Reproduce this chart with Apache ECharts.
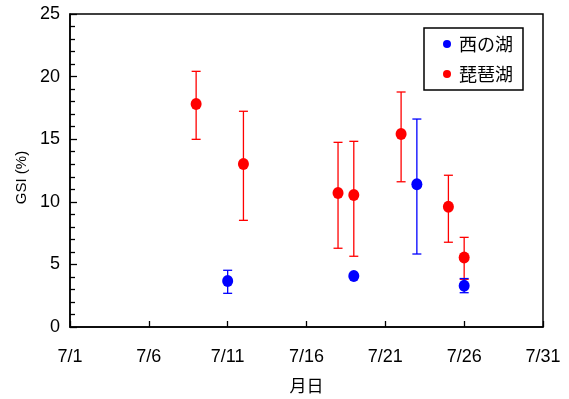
<!DOCTYPE html>
<html>
<head>
<meta charset="utf-8">
<script src="https://cdn.jsdelivr.net/npm/echarts@6/dist/echarts.min.js"></script>
<style>
  html, body { margin: 0; padding: 0; background: #fff; }
  #chart { width: 569px; height: 399px; }
</style>
</head>
<body>
<div id="chart"></div>
<script>
// day of July
var xTickLabels = ["7/1", "7/6", "7/11", "7/16", "7/21", "7/26", "7/31"];

// 西の湖
var nishiDays = [11, 19, 23, 26];
var nishiGsi = [3.67, 4.07, 11.4, 3.3];
var nishiLow = [2.69, 4.07, 5.83, 2.74];
var nishiHigh = [4.53, 4.07, 16.61, 3.87];

// 琵琶湖
var biwaDays = [9, 12, 18, 19, 22, 25, 26];
var biwaGsi = [17.81, 13.02, 10.7, 10.54, 15.42, 9.61, 5.56];
var biwaLow = [14.99, 8.52, 6.29, 5.65, 11.6, 6.77, 3.81];
var biwaHigh = [20.42, 17.23, 14.75, 14.83, 18.77, 12.12, 7.16];

var fontLatin = "Liberation Sans, Arial, Noto Sans CJK JP";
var fontJp = "Noto Sans CJK JP, Liberation Sans";

function pts(days, vals) {
  return days.map(function (d, i) { return [d - 1, vals[i]]; });
}
function bars(days, low, high) {
  return days.map(function (d, i) { return [d - 1, low[i], high[i]]; });
}

function errorBar(color) {
  return function (params, api) {
    var top = api.coord([api.value(0), api.value(2)]);
    var bot = api.coord([api.value(0), api.value(1)]);
    var hw = 4.5;
    var style = { stroke: color, lineWidth: 1.3 };
    if (Math.abs(bot[1] - top[1]) < 1) return { type: "group", children: [] };
    return {
      type: "group",
      children: [
        { type: "line", shape: { x1: top[0], y1: top[1], x2: bot[0], y2: bot[1] }, style: style },
        { type: "line", shape: { x1: top[0] - hw, y1: top[1], x2: top[0] + hw, y2: top[1] }, style: style },
        { type: "line", shape: { x1: bot[0] - hw, y1: bot[1], x2: bot[0] + hw, y2: bot[1] }, style: style }
      ]
    };
  };
}

var myChart = echarts.init(document.getElementById("chart"));

var option = {
  animation: false,
  grid: {
    left: 70, right: 26, top: 14, bottom: 72,
    show: true, borderColor: "#000", borderWidth: 1.5
  },
  legend: {
    orient: "vertical",
    left: 424, top: 28,
    data: [
      { name: "西の湖", icon: "circle" },
      { name: "琵琶湖", icon: "circle" }
    ],
    itemWidth: 8, itemHeight: 10,
    itemGap: 12,
    padding: [7, 10, 7, 19],
    borderColor: "#000", borderWidth: 1.5, borderRadius: 0,
    textStyle: { fontFamily: fontJp, fontSize: 18, color: "#000", padding: [0, 0, 0, 3] }
  },
  xAxis: {
    type: "value",
    min: 0, max: 30, interval: 5,
    name: "月日",
    nameLocation: "middle",
    nameGap: 50,
    nameTextStyle: { fontFamily: fontJp, fontSize: 17, color: "#000" },
    axisLine: { lineStyle: { color: "#000", width: 1.5 } },
    axisTick: { inside: true, length: 6, lineStyle: { color: "#000", width: 1.3 } },
    axisLabel: {
      margin: 21, fontFamily: fontLatin, fontSize: 18, color: "#000",
      formatter: function (v) { return xTickLabels[Math.round(v / 5)]; }
    },
    splitLine: { show: false }
  },
  yAxis: {
    type: "value",
    min: 0, max: 25, interval: 5,
    name: "GSI (%)",
    nameLocation: "middle",
    nameGap: 37,
    nameTextStyle: { fontFamily: fontLatin, fontSize: 15, color: "#000", padding: [0, 14, 0, 0] },
    axisLine: { lineStyle: { color: "#000", width: 1.5 } },
    axisTick: { inside: true, length: 7, lineStyle: { color: "#000", width: 1.3 } },
    minorTick: { show: true, splitNumber: 5, length: 5, lineStyle: { color: "#000", width: 1.3 } },
    axisLabel: { margin: 10, fontFamily: fontLatin, fontSize: 18, color: "#000", padding: [5, 0, 0, 0] },
    splitLine: { show: false }
  },
  series: [
    {
      name: "琵琶湖-err", type: "custom",
      renderItem: errorBar("#ff0000"),
      data: bars(biwaDays, biwaLow, biwaHigh), z: 2
    },
    {
      name: "西の湖-err", type: "custom",
      renderItem: errorBar("#0000ff"),
      data: bars(nishiDays, nishiLow, nishiHigh), z: 2
    },
    {
      name: "琵琶湖", type: "scatter",
      symbol: "circle", symbolSize: [11, 12],
      itemStyle: { color: "#ff0000", opacity: 1 },
      data: pts(biwaDays, biwaGsi), z: 3
    },
    {
      name: "西の湖", type: "scatter",
      symbol: "circle", symbolSize: [11, 12],
      itemStyle: { color: "#0000ff", opacity: 1 },
      data: pts(nishiDays, nishiGsi), z: 3
    }
  ]
};

myChart.setOption(option);
</script>
</body>
</html>
